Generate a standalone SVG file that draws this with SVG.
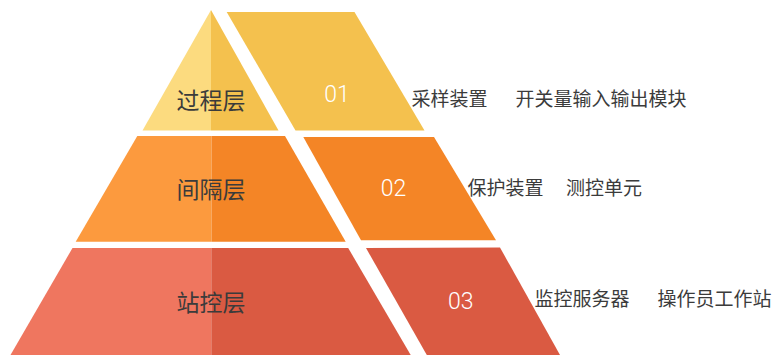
<svg xmlns="http://www.w3.org/2000/svg" width="775" height="355" viewBox="0 0 775 355">
<style>
.lbl{font-family:"Noto Sans CJK SC","Noto Sans",sans-serif;font-size:23px;fill:#3b3b3b;text-anchor:middle}
.num{font-family:Roboto,"Liberation Sans",sans-serif;font-weight:300;font-size:23px;fill:#ffffff;text-anchor:middle}
.desc{font-family:"Noto Sans CJK SC","Noto Sans",sans-serif;font-size:19px;fill:#3b3b3b}
.y1{fill:#FCDB7F}.y2{fill:#F4C14E}
.o1{fill:#FC9A3E}.o2{fill:#F48526}
.r1{fill:#EF765F}.r2{fill:#DA5A42}
</style>
<rect width="775" height="355" fill="#ffffff"/>
<g id="layer-process">
<polygon class="y1" points="211,10 142.5,130.5 211,130.5"/>
<polygon class="y2" points="211,10 211,130.5 278.5,130.5"/>
<text class="lbl" x="211" y="108.7">过程层</text>
</g>
<g id="item-01">
<polygon class="y2" points="226.7,12 354.5,12 424.5,130.5 295.5,130.5"/>
<text class="num" x="337" y="101.7">01</text>
</g>
<g id="desc-01">
<text class="desc" x="411.5" y="106.2">采样装置</text>
<text class="desc" x="515.5" y="106.2">开关量输入输出模块</text>
</g>
<g id="layer-bay">
<polygon class="o1" points="137.3,136 211.5,136 211.5,241.7 75.7,241.7"/>
<polygon class="o2" points="211.5,136 285,136 345.7,241.7 211.5,241.7"/>
<text class="lbl" x="211" y="197.7">间隔层</text>
</g>
<g id="item-02">
<polygon class="o2" points="303.3,137 434,137 496,240.3 361,240.3"/>
<text class="num" x="393.5" y="196">02</text>
</g>
<g id="desc-02">
<text class="desc" x="467.5" y="194.5">保护装置</text>
<text class="desc" x="566" y="194.5">测控单元</text>
</g>
<g id="layer-station">
<polygon class="r1" points="72.5,248 211.3,248 211.3,355 10.5,355"/>
<polygon class="r2" points="211.3,248 348.2,248 410.7,355 211.3,355"/>
<text class="lbl" x="211" y="311">站控层</text>
</g>
<g id="item-03">
<polygon class="r2" points="366,248 500,247.5 560,355 426.8,355"/>
<text class="num" x="460.7" y="308.5">03</text>
</g>
<g id="desc-03">
<text class="desc" x="534.5" y="305.5">监控服务器</text>
<text class="desc" x="657.5" y="305.5">操作员工作站</text>
</g>
</svg>
